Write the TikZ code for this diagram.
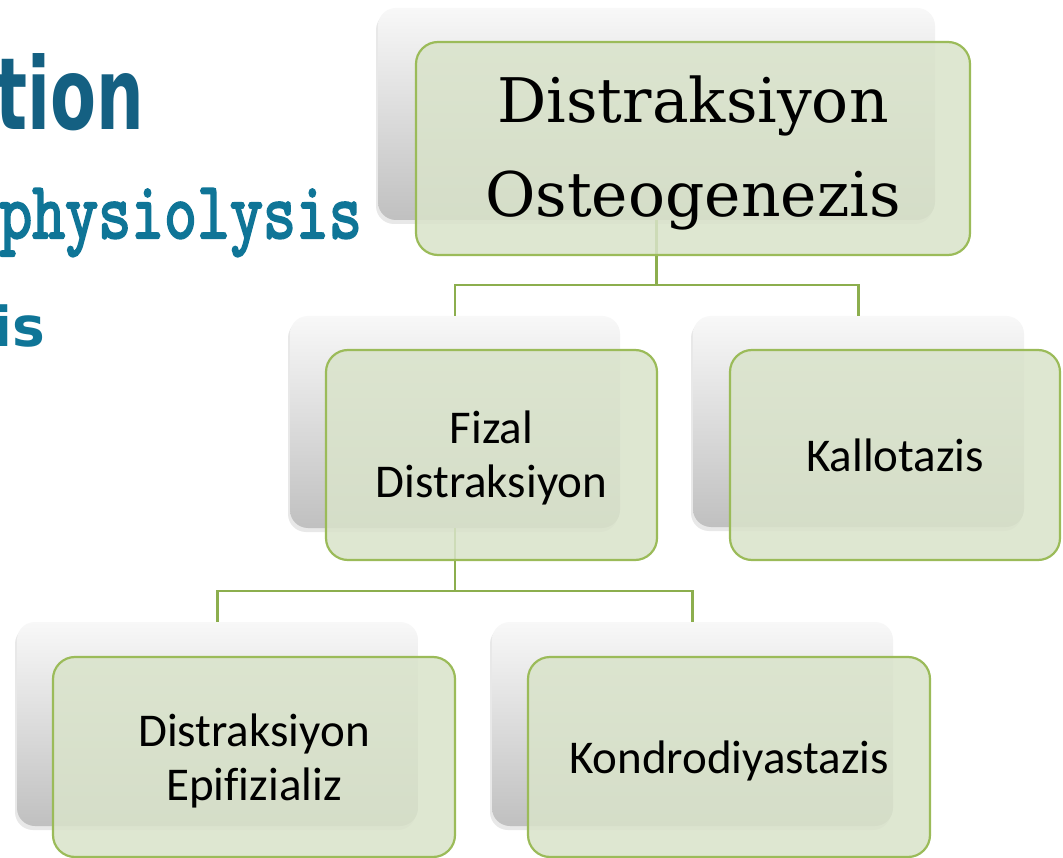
\documentclass[tikz,border=0pt]{standalone}
\usepackage{graphicx}
\usepackage{fontspec}
\setmainfont{Carlito}[Ligatures=NoCommon]
\newfontfamily\titlefont{DejaVu Serif}
\newfontfamily\heavyfont{DejaVu Sans}
\usetikzlibrary{shadows}
\definecolor{boxgreen}{RGB}{217,227,202}
\definecolor{edgegreen}{RGB}{155,187,89}
\definecolor{linkgreen}{RGB}{140,174,78}
\definecolor{tealtext}{RGB}{15,117,151}
\definecolor{tealdark}{RGB}{20,96,130}
\definecolor{shadetop}{RGB}{248,248,248}
\definecolor{shademid}{RGB}{238,238,238}
\definecolor{shadebot}{RGB}{192,192,192}
\newcommand{\fatstroke}[1]{\special{pdf:literal direct 2 Tr 2.4 w}#1\special{pdf:literal direct 0 Tr 1 w}}
\begin{document}
\begin{tikzpicture}[x=1pt,y=-1pt,
  back/.style={rectangle, rounded corners=18pt, inner sep=0pt, outer sep=0pt,
    top color=shadetop, middle color=shademid, bottom color=shadebot,
    drop shadow={shadow xshift=-2pt, shadow yshift=-4pt, opacity=0.18}},
  front/.style={rectangle, rounded corners=22pt, inner sep=0pt, outer sep=0pt,
    draw=edgegreen, line width=2.2pt, fill=boxgreen, fill opacity=0.85},
  link/.style={draw=linkgreen, line width=2.4pt},
  boxtext/.style={inner sep=0pt, align=center, text=black,
    font=\fontsize{47}{54}\selectfont},
  titletext/.style={inner sep=0pt, align=center, text=black,
    font=\titlefont\fontsize{61.5}{94}\selectfont},
  bgword/.style={anchor=base east, inner sep=0pt}
]
\useasboundingbox (0,0) rectangle (1063,858);
\clip (0,0) rectangle (1063,858);
\fill[white] (0,0) rectangle (1063,858);

% background slide text
\node[bgword, text=tealdark, font=\heavyfont\bfseries\fontsize{100}{100}\selectfont] (w1) at (144,130) {\scalebox{0.67}[1]{tion}};
\node[bgword, text=tealtext, font=\ttfamily\fontsize{81}{81}\selectfont] (w2) at (362,238) {\scalebox{0.79}[1]{\fatstroke{physiolysis}}};
\node[bgword, text=tealtext, font=\heavyfont\bfseries\fontsize{55}{55}\selectfont] (w3) at (45,347) {is};

% back (gray) boxes
\node[back, minimum width=557pt, minimum height=212pt] (g0) at (656.5,114) {};
\node[back, minimum width=330pt, minimum height=212pt] (g1) at (455,422) {};
\node[back, minimum width=331pt, minimum height=211pt] (g2) at (858.5,421.5) {};
\node[back, minimum width=401pt, minimum height=204pt] (g3) at (217.5,724) {};
\node[back, minimum width=401pt, minimum height=204pt] (g4) at (692.5,724) {};

% connectors
\coordinate (j0) at (656.5,285);
\coordinate (j1) at (455,591);
\draw[link] (g0.south) -- (j0) -| (g1.north);
\draw[link] (j0) -| (g2.north);
\draw[link] (g1.south) -- (j1) -| (g3.north);
\draw[link] (j1) -| (g4.north);

% front (green) boxes
\node[front, minimum width=554pt, minimum height=213pt] (b0) at (693,148.5) {};
\node[front, minimum width=331pt, minimum height=210pt] (b1) at (491.5,455) {};
\node[front, minimum width=330pt, minimum height=210pt] (b2) at (895,455) {};
\node[front, minimum width=402pt, minimum height=200pt] (b3) at (254,757) {};
\node[front, minimum width=402pt, minimum height=200pt] (b4) at (729,757) {};

% texts
\node[titletext] (t0) at ([yshift=-4pt]b0.center) {Distraksiyon\\Osteogenezis};
\node[boxtext] (t1) at ([yshift=-3pt]b1.center) {Fizal\\Distraksiyon};
\node[boxtext] (t2) at (b2.center) {Kallotazis};
\node[boxtext] (t3) at ([yshift=-4pt]b3.center) {Distraksiyon\\Epifizializ};
\node[boxtext] (t4) at ([yshift=-4pt]b4.center) {Kondrodiyastazis};
\end{tikzpicture}
\end{document}
